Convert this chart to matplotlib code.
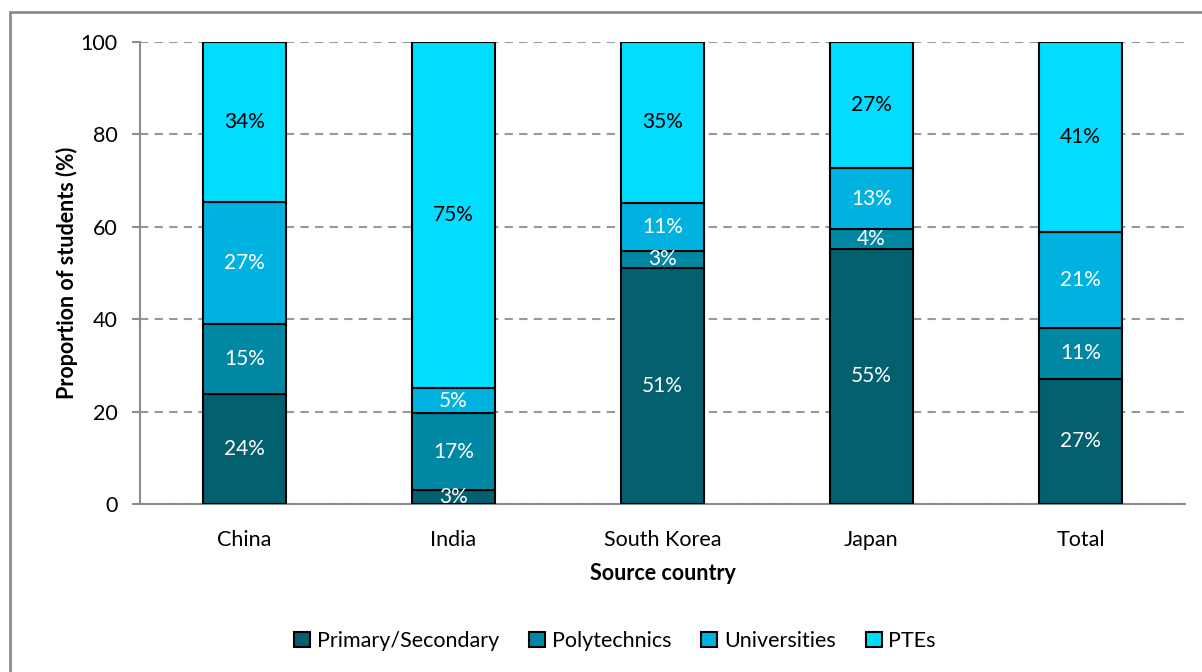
import numpy as np
import matplotlib
matplotlib.use("Agg")
from matplotlib import pyplot as plt
from matplotlib.patches import Rectangle

# data
countries = ["China", "India", "South Korea", "Japan", "Total"]
series = ["Primary/Secondary", "Polytechnics", "Universities", "PTEs"]
primary = [23.8, 3.0, 51.1, 55.2, 27.1]
polytech = [15.2, 16.7, 3.7, 4.3, 11.0]
univ = [26.4, 5.4, 10.4, 13.2, 20.8]
ptes = [34.6, 74.9, 34.8, 27.3, 41.1]
labels = [["24%", "3%", "51%", "55%", "27%"],
          ["15%", "17%", "3%", "4%", "11%"],
          ["27%", "5%", "11%", "13%", "21%"],
          ["34%", "75%", "35%", "27%", "41%"]]
yticks = [0, 20, 40, 60, 80, 100]

colors = ["#02606f", "#0087a4", "#00b2e0", "#00ddff"]
txtcol = ["white", "white", "white", "black"]

plt.rcParams["font.family"] = ["Lato", "DejaVu Sans"]
fs = 15.5

W, H = 1202, 672
fig = plt.figure(figsize=(W / 100, H / 100), dpi=100)
# outer frame
fig.patches.append(Rectangle((10 / W, -0.1), 1.2, (H - 12) / H + 0.1,
                             transform=fig.transFigure, fill=False,
                             edgecolor="#8c8c8c", lw=2))

ax = fig.add_axes([140 / W, (H - 504) / H, 1045 / W, (504 - 42) / H])
x = np.arange(len(countries))
bottom = np.zeros(len(countries))
for i, vals in enumerate([primary, polytech, univ, ptes]):
    vals = np.array(vals)
    ax.bar(x, vals, width=0.4, bottom=bottom, color=colors[i],
           edgecolor="black", lw=1.5, label=series[i], zorder=3)
    for j in range(len(countries)):
        ax.text(x[j], bottom[j] + vals[j] / 2, labels[i][j], ha="center",
                va="center", color=txtcol[i], fontsize=15, zorder=4)
    bottom += vals

ax.set_xlim(-0.5, len(countries) - 0.5)
ax.set_ylim(0, 100)
ax.set_yticks(yticks)
ax.set_xticks(x)
ax.set_xticklabels(countries, fontsize=fs)
ax.tick_params(axis="y", labelsize=fs, length=6, color="#8c8c8c", width=1.5, pad=10)
ax.tick_params(axis="x", length=0, pad=19)
ax.grid(axis="y", color="#999999", ls=(0, (4, 3)), lw=1.5, zorder=0)
for s in ["top", "right"]:
    ax.spines[s].set_visible(False)
for s in ["left", "bottom"]:
    ax.spines[s].set_color("#8c8c8c")
    ax.spines[s].set_linewidth(1.5)
ax.set_ylabel("Proportion of students (%)", fontsize=fs, fontweight="bold", labelpad=2)
ax.set_xlabel("Source country", fontsize=fs, fontweight="bold", labelpad=9)

fig.legend(loc="center", bbox_to_anchor=(615 / W, (H - 641) / H), ncol=4,
           frameon=False, fontsize=fs, handlelength=0.75, handleheight=0.75,
           handletextpad=0.3, columnspacing=1.4)

fig.savefig("out.png", dpi=100)
